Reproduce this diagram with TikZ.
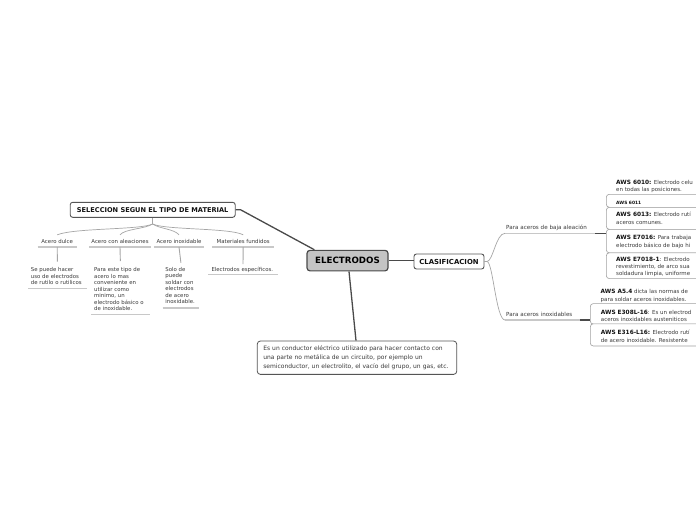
\documentclass[tikz,border=0pt]{standalone}
\usepackage{fontspec}
\setmainfont{DejaVu Sans}
\definecolor{lineDark}{HTML}{4A4A4A}
\definecolor{boxEdge}{HTML}{555555}
\definecolor{mainFill}{HTML}{C4C4C4}
\definecolor{ulGray}{HTML}{C8C8C8}
\definecolor{curveGray}{HTML}{A6A6A6}
\definecolor{frameGray}{HTML}{A0A0A0}
\definecolor{txt}{HTML}{3A3A3A}
\definecolor{txtBold}{HTML}{111111}
\newcommand\bsz{\fontsize{5.8}{7.4}\selectfont\bfseries\color{txtBold}}
\newcommand\fls{\rule{0pt}{5.5pt}}
\begin{document}
\begin{tikzpicture}[x=1pt,y=-1pt,
  mainline/.style={draw=lineDark, line width=1.3pt},
  ulline/.style={draw=ulGray, line width=1.2pt},
  fanline/.style={draw=curveGray, line width=0.7pt},
  leafline/.style={draw=curveGray, line width=0.9pt},
  mainbox/.style={draw=lineDark, line width=1.2pt, fill=mainFill, rounded corners=3pt,
    minimum width=81, minimum height=20.5, inner sep=0,
    font=\fontsize{8.7}{10}\selectfont\bfseries, text=black},
  catbox/.style={draw=boxEdge, line width=0.9pt, fill=white, rounded corners=2.5pt,
    inner sep=0, text=txtBold},
  descbox/.style={draw=boxEdge, line width=0.8pt, fill=white, rounded corners=3pt,
    minimum width=199.4, minimum height=33.3, text width=187.4, inner xsep=6, inner ysep=0,
    align=left, font=\fontsize{6}{8.7}\selectfont, text=txt},
  lbl/.style={inner xsep=0, inner ysep=0, text height=8, text depth=3.7, anchor=base,
    font=\fontsize{5.4}{6.5}\selectfont, text=txt},
  leaf/.style={inner ysep=0, align=left, anchor=north west,
    font=\fontsize{5.4}{6.5}\selectfont, text=txt},
  sublbl/.style={inner ysep=0, inner xsep=1, anchor=south west, align=left, text height=5,
    font=\fontsize{5.6}{6.5}\selectfont, text=txt},
  frame/.style={draw=frameGray, line width=0.6pt, fill=white, rounded corners=3pt,
    minimum width=130, inner sep=0, anchor=north west},
  rtext/.style={anchor=north west, inner sep=0, align=left,
    font=\fontsize{5.5}{7.4}\selectfont, text=txt}
]
\useasboundingbox (0,0) rectangle (696,520);
\fill[white] (0,0) rectangle (696,520);
\begin{scope}
\clip (0,0) rectangle (696,520);

% ---------- main nodes ----------
\node[mainbox] (el) at (347.5,260.6) {ELECTRODOS};
\node[catbox, minimum width=70, minimum height=15, font=\fontsize{6.9}{8}\selectfont\bfseries]
  (clas) at (449,261.5) {CLASIFICACION};
\node[catbox, minimum width=165, minimum height=15, font=\fontsize{6.6}{8}\selectfont\bfseries]
  (sel) at (152.7,209.8) {SELECCION SEGUN EL TIPO DE MATERIAL};
\node[descbox] (desc) at (357,357.7) {Es un conductor eléctrico utilizado para hacer contacto con\\
una parte no metálica de un circuito, por ejemplo un\\
semiconductor, un electrolito, el vacío del grupo, un gas, etc.};

\draw[mainline] (sel.east) -- ++(5,0) -- ([xshift=8pt]el.north west);
\draw[mainline] (el.east) -- (el.east -| clas.west);
\draw[mainline] ([xshift=1.5pt]el.south) -- ([xshift=-1pt]desc.north);

% ---------- left branch ----------
\coordinate (fork) at (152.7,224);
\draw[fanline] (sel.south) -- (fork);

\node[lbl, minimum width=39]   (dulce) at (57.2,243) {Acero dulce};
\node[lbl, minimum width=61.4] (aleac) at (120,243) {Acero con aleaciones};
\node[lbl, minimum width=50]   (inox)  at (179,243) {Acero inoxidable};
\node[lbl, minimum width=61.7] (mater) at (243.2,243) {Materiales fundidos};
\foreach \n in {dulce,aleac,inox,mater}{\draw[ulline] (\n.south west) -- (\n.south east);}

\draw[fanline] (fork) .. controls +(-12.7,6) and +(17.8,-7) .. (dulce.north);
\draw[fanline] (fork) .. controls +(-7.7,5) and +(5,-6) .. (aleac.north);
\draw[fanline] (fork) .. controls +(7.3,5) and +(-5,-6) .. (inox.north);
\draw[fanline] (fork) .. controls +(12.3,6) and +(-13,-7) .. (mater.north);

\node[leaf, text width=53, inner xsep=2.4] (leafa) at (28.3,261.7)
  {\rule{0pt}{9.8pt}Se puede hacer\\uso de electrodos\\de rutilo o rutilicos\rule[-3.8pt]{0pt}{3.8pt}};
\node[leaf, text width=52.3, inner xsep=3] (leafb) at (91,261)
  {\rule{0pt}{10.5pt}Para este tipo de\\acero lo mas\\conveniente en\\utilizar como\\minimo, un\\electrodo básico o\\de inoxidable.\rule[-3.5pt]{0pt}{3.5pt}};
\node[leaf, text width=31, inner xsep=2.5] (leafc) at (162.7,262.7)
  {\rule{0pt}{8.3pt}Solo de\\puede\\soldar con\\electrodos\\de acero\\inoxidable.\rule[-4pt]{0pt}{4pt}};
\node[leaf, text width=63, inner xsep=3] (leafd) at (208.3,264)
  {\rule{0pt}{7pt}Electrodos específicos.\rule[-3.2pt]{0pt}{3.2pt}};
\foreach \n in {leafa,leafb,leafc,leafd}{\draw[ulline] (\n.south west) -- (\n.south east);}

\draw[leafline] (dulce.south) -- (leafa.north);
\draw[leafline] (aleac.south) -- (leafb.north);
\draw[leafline] (inox.south) -- (leafc.north);
\draw[leafline] (mater.south) -- (leafd.north);

% ---------- right branch ----------
\node[sublbl, text width=88, text depth=3.8] (baja) at (505,233.3) {Para aceros de baja aleación};
\node[sublbl, text width=73, text depth=3] (inoxs) at (505,320) {Para aceros inoxidables};
\draw[ulline] (baja.south west) -- (baja.south east);
\draw[ulline] (inoxs.south west) -- (inoxs.south east);

\draw[fanline] (clas.east) -- ++(2.5,0) .. controls +(6,0) and +(-9,0) .. (baja.south west);
\draw[fanline] (clas.east) -- ++(2.5,0) .. controls +(6,0) and +(-9,0) .. (inoxs.south west);

% frames (low alloy)
\node[frame, minimum height=13]   (b6011) at (606,194) {};
\node[frame, minimum height=22]   (b6013) at (606,207) {};
\node[frame, minimum height=23.5] (b7016) at (606,229) {};
\node[frame, minimum height=25.8] (b7018) at (606,252.5) {};
% frames (stainless)
\node[frame, minimum height=20.5, minimum width=140] (b308) at (590,303.3) {};
\node[frame, minimum height=22.2, minimum width=140] (b316) at (590,323.5) {};

\draw[mainline] (baja.south east) -- (baja.south east -| b7016.west);
\draw[mainline] (inoxs.south east) -- (inoxs.south east -| b308.west);

% texts (low alloy), cut where the picture's edge cuts them
\node[rtext] (t6010) at (616,178.4) {\fls{\bsz AWS 6010:} Electrodo celu\\en todas las posiciones.};
\node[anchor=base west, inner sep=0, font=\fontsize{4.4}{5}\selectfont\bfseries, text=txtBold]
  (t6011) at (616,204.2) {AWS 6011};
\node[rtext, font=\fontsize{5.5}{7.9}\selectfont] (t6013) at (616,211) {\fls{\bsz AWS 6013:} Electrodo rutí\\aceros comunes.};
\node[rtext, font=\fontsize{5.5}{7.5}\selectfont] (t7016) at (616,233.8) {\fls{\bsz AWS E7016:} Para trabaja\\electrodo básico de bajo hi};
\node[rtext, font=\fontsize{5.5}{7.2}\selectfont] (t7018) at (616,255.5) {\fls{\bsz AWS E7018-1}: Electrodo\\revestimiento, de arco sua\\soldadura limpia, uniforme};

% texts (stainless)
\node[rtext, font=\fontsize{5.5}{7.3}\selectfont] (ta54) at (600.5,288) {\fls{\bsz AWS A5.4} dicta las normas de\\para soldar aceros inoxidables.};
\node[rtext, font=\fontsize{5.5}{7.3}\selectfont] (t308) at (600.7,308.7) {\fls{\bsz AWS E308L-16}: Es un electrod\\aceros inoxidables austeniticos};
\node[rtext, font=\fontsize{5.5}{7.3}\selectfont] (t316) at (600.7,329) {\fls{\bsz AWS E316-L16:} Electrodo rutí\\de acero inoxidable. Resistente};
\end{scope}
\end{tikzpicture}
\end{document}
